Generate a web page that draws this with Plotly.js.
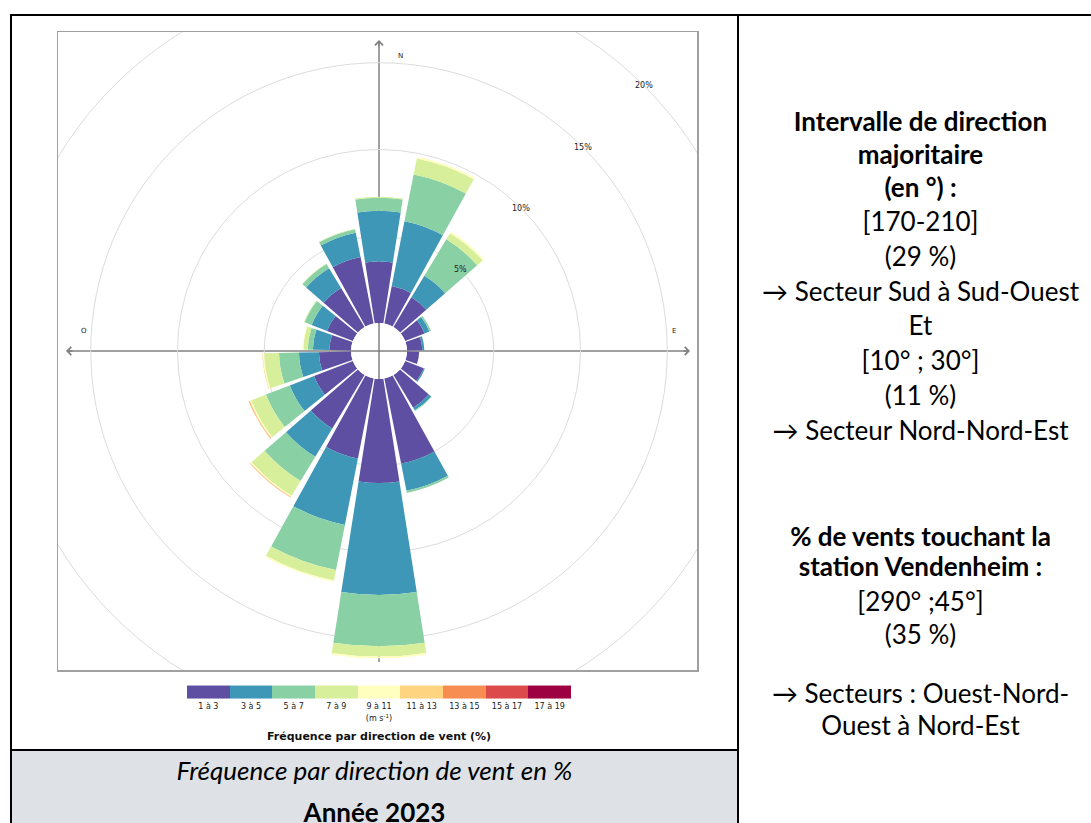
<!DOCTYPE html>
<html><head><meta charset="utf-8">
<script src="https://cdn.plot.ly/plotly-3.0.1.min.js"></script>
<style>
html,body{margin:0;padding:0;background:#fff;}
#page{position:relative;width:1091px;height:823px;overflow:hidden;font-family:Lato,'Noto Sans',sans-serif;color:#000;}
.ln{position:absolute;background:#000;z-index:0;}
#chart{position:absolute;left:0;top:0;width:1091px;height:823px;z-index:1;}
.t{position:absolute;left:745px;width:351px;text-align:center;font-size:26px;line-height:26px;z-index:2;white-space:nowrap;}
.c{position:absolute;left:12px;width:725px;text-align:center;font-size:26px;line-height:26px;z-index:2;white-space:nowrap;}
</style></head>
<body>
<div id="page">
  <div style="position:absolute;left:12px;top:751px;width:725px;height:72px;background:#dee2e6;z-index:0"></div>
  <div class="ln" style="left:10px;top:14px;width:1081px;height:2px"></div>
  <div class="ln" style="left:10px;top:14px;width:2px;height:809px"></div>
  <div class="ln" style="left:737px;top:14px;width:2px;height:809px"></div>
  <div class="ln" style="left:10px;top:749px;width:729px;height:2px"></div>
  <div id="chart"></div>

  <div class="t" style="top:108px;font-weight:bold">Intervalle de direction</div>
  <div class="t" style="top:141px;font-weight:bold">majoritaire</div>
  <div class="t" style="top:174px;font-weight:bold">(en °) :</div>
  <div class="t" style="top:208px">[170-210]</div>
  <div class="t" style="top:243px">(29 %)</div>
  <div class="t" style="top:278px">→ Secteur Sud à Sud-Ouest</div>
  <div class="t" style="top:312px">Et</div>
  <div class="t" style="top:347px">[10° ; 30°]</div>
  <div class="t" style="top:382px">(11 %)</div>
  <div class="t" style="top:417px">→ Secteur Nord-Nord-Est</div>
  <div class="t" style="top:523px;font-weight:bold">% de vents touchant la</div>
  <div class="t" style="top:553px;font-weight:bold">station Vendenheim :</div>
  <div class="t" style="top:588px">[290° ;45°]</div>
  <div class="t" style="top:621px">(35 %)</div>
  <div class="t" style="top:680px">→ Secteurs : Ouest-Nord-</div>
  <div class="t" style="top:712px">Ouest à Nord-Est</div>

  <div class="c" style="top:757px;font-style:italic">Fréquence par direction de vent en %</div>
  <div class="c" style="top:799px;font-weight:bold">Année 2023</div>
</div>
<script>
// ---- data ----
const directions = [0,20,40,60,80,100,120,140,160,180,200,220,240,260,280,300,320,340];
const speedClasses = ['1 à 3','3 à 5','5 à 7','7 à 9','9 à 11','11 à 13','13 à 15','15 à 17','17 à 19'];
const speedColors = ['#5e4fa2','#3f97b7','#89d0a5','#d7ef9b','#ffffbf','#fed481','#f88d52','#dd4a4c','#9e0142'];
const s1_3   = [3.55,2.2,2.0,1.2,0.88,0.7,1.15,2.2,5.0,6.0,4.7,3.6,2.4,1.85,1.25,1.6,2.62,3.9];
const s3_5   = [2.92,3.8,1.45,0.3,0.12,0,0.07,0.18,1.6,6.45,3.9,1.9,1.5,1.15,0.95,0.95,1.34,1.43];
const s5_7   = [0.75,2.75,2.45,0.1,0,0,0,0.04,0.12,2.95,2.65,1.64,1.47,1.15,0.3,0.43,0.28,0.21];
const s7_9   = [0.06,0.95,0.42,0,0,0,0,0,0,0.6,0.62,0.99,0.91,0.85,0.25,0.04,0.03,0.02];
const s9_11  = [0,0.1,0.1,0,0,0,0,0,0,0.1,0.08,0.07,0.07,0.08,0.05,0,0,0];
const s11_13 = [0,0,0,0,0,0,0,0,0,0,0,0.03,0.05,0.03,0,0,0,0];
const s13_15 = [0,0,0,0,0,0,0,0,0,0,0,0.02,0.03,0,0,0,0,0];
const s15_17 = [0,0,0,0,0,0,0,0,0,0,0,0,0,0,0,0,0,0];
const s17_19 = [0,0,0,0,0,0,0,0,0,0,0,0,0,0,0,0,0,0];
const ringValues = [5,10,15,20];
const ringLabels = ['5%','10%','15%','20%'];
const compassLabels = ['N','E','O'];

const series = [s1_3,s3_5,s5_7,s7_9,s9_11,s11_13,s13_15,s15_17,s17_19];

// ---- geometry ----
const W = 1091, H = 823;
const CX = 379, CY = 351;     // rose centre (px)
const HOLE = 28;              // inner hole radius (px)
const PXPER = 17.35;          // px per %
const R = 350;                // polar outer radius (px)
const BOX = {x0:58, x1:697, y0:32, y1:670};
const rmax = (R - HOLE) / PXPER;
const rpx = v => HOLE + v * PXPER;

const traces = series.map((vals, i) => ({
  type: 'barpolar',
  theta: directions,
  r: vals,
  name: speedClasses[i],
  width: 17.8,
  marker: {color: speedColors[i], line: {width: 0}},
  showlegend: false,
  hoverinfo: 'skip',
  subplot: 'polar'
}));

// discrete colour scale for the speed legend
const cs = [];
speedColors.forEach((c, i) => { cs.push([i/9, c]); cs.push([(i+1)/9, c]); });
traces.push({
  type: 'scatter', x: [null], y: [null], xaxis: 'x', yaxis: 'y',
  mode: 'markers', showlegend: false, hoverinfo: 'skip',
  marker: {
    color: [0], cmin: 0, cmax: 9, colorscale: cs, showscale: true,
    colorbar: {
      orientation: 'h', x: CX/W, xanchor: 'center',
      y: (H - 723)/H, yanchor: 'bottom',
      len: 384, lenmode: 'pixels', thickness: 13, thicknessmode: 'pixels',
      outlinewidth: 0, xpad: 0, ypad: 0,
      tickvals: speedClasses.map((_, i) => i + 0.5), ticktext: speedClasses,
      ticks: '', tickfont: {family: 'DejaVu Sans', size: 8, color: '#222'},
      title: {text: '(m s<sup>-1</sup>)', side: 'bottom', font: {family: 'DejaVu Sans', size: 8, color: '#222'}}
    }
  }
});

const shapes = [];
// 20 % ring (beyond polar range) clipped to box
const r20 = rpx(20);
shapes.push({type: 'circle', xref: 'x', yref: 'y', x0: CX - r20, x1: CX + r20, y0: CY - r20, y1: CY + r20,
  line: {color: '#dcdcdc', width: 1}, layer: 'below'});
// compass axes under the bars
shapes.push({type: 'line', xref: 'x', yref: 'y', x0: 67, x1: 689, y0: CY, y1: CY, line: {color: '#808080', width: 1.5}, layer: 'below'});
shapes.push({type: 'line', xref: 'x', yref: 'y', x0: CX, x1: CX, y0: 41, y1: 662, line: {color: '#808080', width: 1.5}, layer: 'below'});

const annotations = [];
ringValues.forEach((v, i) => {
  const r = rpx(v);
  annotations.push({xref: 'x', yref: 'y', x: CX + r*Math.SQRT1_2, y: CY - r*Math.SQRT1_2,
    text: ringLabels[i], showarrow: false, font: {family: 'DejaVu Sans', size: 8, color: '#222'}});
});
// arrow heads
annotations.push({xref:'x', yref:'y', x: CX, y: 40, ax: 0, ay: 8, showarrow: true, arrowhead: 4, arrowsize: 1.2, arrowwidth: 1.3, arrowcolor: '#808080', text: ''});
annotations.push({xref:'x', yref:'y', x: 66, y: CY, ax: 8, ay: 0, showarrow: true, arrowhead: 4, arrowsize: 1.2, arrowwidth: 1.3, arrowcolor: '#808080', text: ''});
annotations.push({xref:'x', yref:'y', x: 690, y: CY, ax: -8, ay: 0, showarrow: true, arrowhead: 4, arrowsize: 1.2, arrowwidth: 1.3, arrowcolor: '#808080', text: ''});
const compassPos = [[400,56],[674,331],[84,331]];
compassLabels.forEach((t, i) => annotations.push({xref:'x', yref:'y', x: compassPos[i][0], y: compassPos[i][1], text: t, showarrow: false,
  font: {family: 'DejaVu Sans', size: 7, color: '#222'}}));
annotations.push({xref: 'paper', yref: 'paper', x: CX/W, y: (H - 736)/H, yanchor: 'middle',
  text: '<b>Fréquence par direction de vent (%)</b>', showarrow: false,
  font: {family: 'DejaVu Sans', size: 11, color: '#111'}});

const layout = {
  width: W, height: H,
  margin: {l: 0, r: 0, t: 0, b: 0},
  paper_bgcolor: 'rgba(0,0,0,0)', plot_bgcolor: 'rgba(0,0,0,0)',
  showlegend: false,
  xaxis: {domain: [BOX.x0/W, BOX.x1/W], range: [BOX.x0, BOX.x1], showgrid: false, zeroline: false,
    showticklabels: false, ticks: '', showline: true, mirror: true, linecolor: '#a0a0a0', linewidth: 1.5, fixedrange: true},
  yaxis: {domain: [(H - BOX.y1)/H, (H - BOX.y0)/H], range: [BOX.y1, BOX.y0], showgrid: false, zeroline: false,
    showticklabels: false, ticks: '', showline: true, mirror: true, linecolor: '#a0a0a0', linewidth: 1.5, fixedrange: true},
  polar: {
    domain: {x: [(CX - R)/W, (CX + R)/W], y: [(H - CY - R)/H, (H - CY + R)/H]},
    bgcolor: 'rgba(0,0,0,0)',
    hole: HOLE / R,
    barmode: 'stack',
    radialaxis: {range: [0, rmax], tickvals: ringValues.slice(0, 3), showticklabels: false, ticks: '',
      showline: false, gridcolor: '#dcdcdc', gridwidth: 1, layer: 'below traces'},
    angularaxis: {rotation: 90, direction: 'clockwise', showgrid: false, showline: false,
      showticklabels: false, ticks: '', layer: 'below traces'}
  },
  shapes: shapes,
  annotations: annotations
};

Plotly.newPlot('chart', traces, layout, {staticPlot: true, displayModeBar: false});
</script>
</body></html>
